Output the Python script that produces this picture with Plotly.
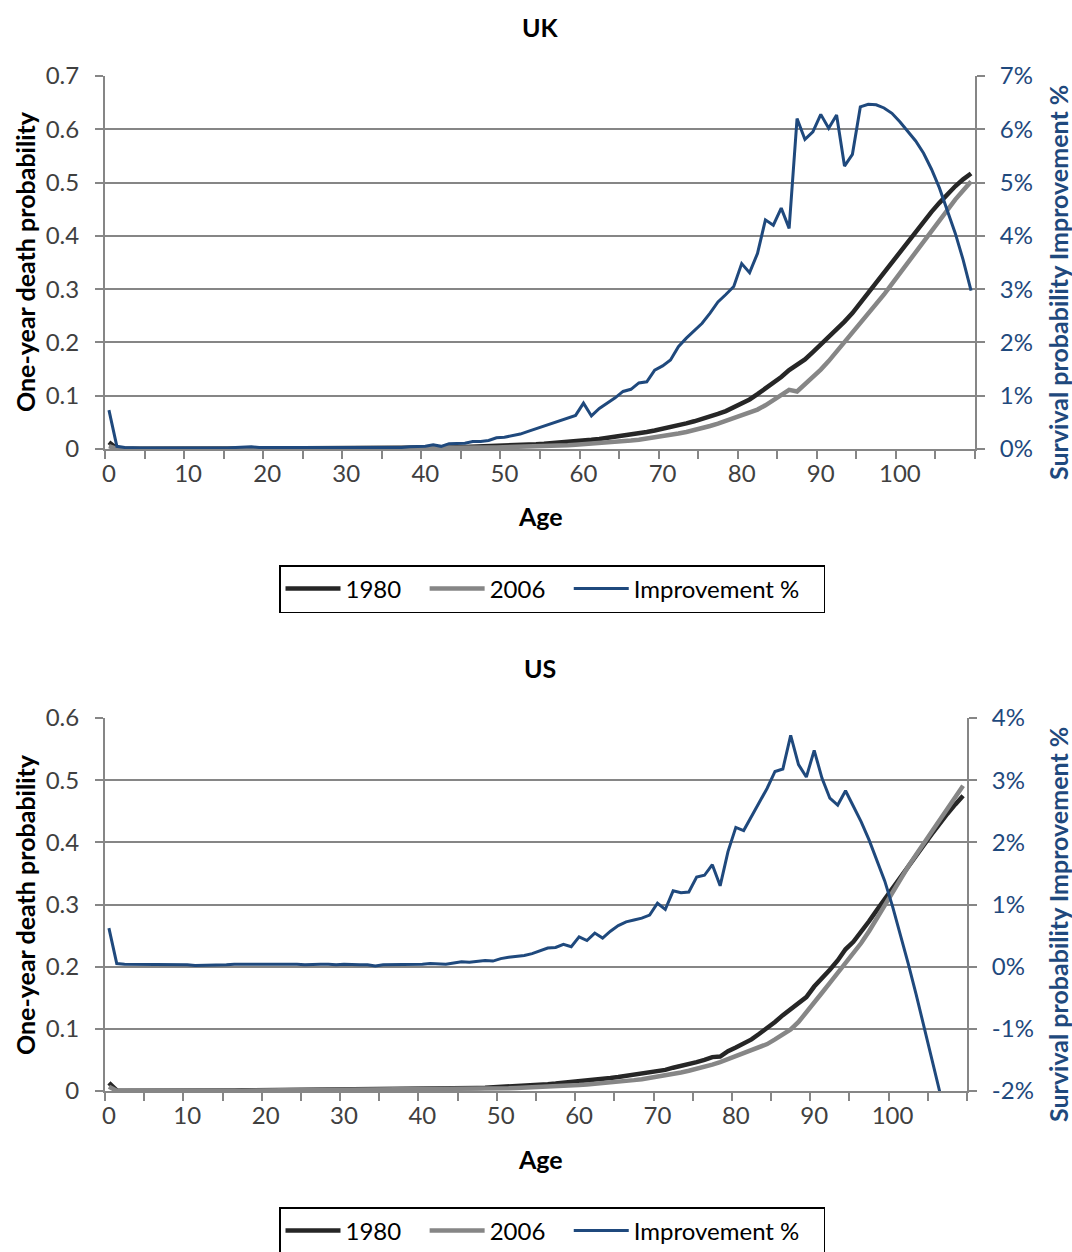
import plotly.graph_objects as go

# Ages 0..109, one category per year of age
ages = list(range(110))

# ---------------- UK ----------------
uk_1980 = [
    0.0125, 0.0009, 0.0005, 0.0004, 0.0003, 0.0003, 0.0003, 0.0002, 0.0002, 0.0002,
    0.0002, 0.0002, 0.0003, 0.0003, 0.0004, 0.0005, 0.0006, 0.0008, 0.0009, 0.0009,
    0.0008, 0.0008, 0.0008, 0.0008, 0.0008, 0.0008, 0.0008, 0.0009, 0.0009, 0.0009,
    0.0010, 0.0010, 0.0011, 0.0011, 0.0012, 0.0013, 0.0014, 0.0016, 0.0017, 0.0019,
    0.0021, 0.0023, 0.0026, 0.0029, 0.0032, 0.0036, 0.0040, 0.0044, 0.0049, 0.0054,
    0.0060, 0.0066, 0.0073, 0.0080, 0.0088, 0.0097, 0.0106, 0.0117, 0.0128, 0.0140,
    0.0160, 0.0172, 0.0188, 0.0207, 0.0228, 0.0250, 0.0272, 0.0296, 0.0320, 0.0347,
    0.0376, 0.0408, 0.0443, 0.0480, 0.0520, 0.0562, 0.0608, 0.0658, 0.0712, 0.0787,
    0.0870, 0.0930, 0.1030, 0.1140, 0.1230, 0.1350, 0.1480, 0.1580, 0.1680, 0.1820,
    0.1960, 0.2110, 0.2260, 0.2390, 0.2550, 0.2740, 0.2940, 0.3130, 0.3330, 0.3520,
    0.3710, 0.3900, 0.4090, 0.4270, 0.4450, 0.4620, 0.4780, 0.4930, 0.5060, 0.5170,
]
uk_2006 = [
    0.0052, 0.0004, 0.0002, 0.0001, 0.0001, 0.0001, 0.0001, 0.0001, 0.0001, 0.0001,
    0.0001, 0.0001, 0.0001, 0.0002, 0.0002, 0.0003, 0.0003, 0.0004, 0.0005, 0.0005,
    0.0005, 0.0005, 0.0005, 0.0005, 0.0005, 0.0006, 0.0006, 0.0006, 0.0006, 0.0006,
    0.0007, 0.0007, 0.0008, 0.0008, 0.0009, 0.0009, 0.0010, 0.0010, 0.0011, 0.0012,
    0.0013, 0.0014, 0.0015, 0.0017, 0.0018, 0.0020, 0.0022, 0.0024, 0.0026, 0.0029,
    0.0032, 0.0035, 0.0038, 0.0042, 0.0046, 0.0051, 0.0056, 0.0064, 0.0072, 0.0081,
    0.0090, 0.0098, 0.0107, 0.0118, 0.0130, 0.0143, 0.0158, 0.0175, 0.0194, 0.0215,
    0.0238, 0.0263, 0.0290, 0.0320, 0.0353, 0.0390, 0.0432, 0.0478, 0.0528, 0.0580,
    0.0630, 0.0680, 0.0740, 0.0820, 0.0910, 0.1010, 0.1110, 0.1080, 0.1210, 0.1340,
    0.1490, 0.1650, 0.1830, 0.2010, 0.2170, 0.2340, 0.2520, 0.2700, 0.2900, 0.3100,
    0.3300, 0.3500, 0.3710, 0.3910, 0.4110, 0.4310, 0.4500, 0.4680, 0.4850, 0.5020,
]
uk_improvement = [
    0.73, 0.05, 0.03, 0.02, 0.02, 0.02, 0.02, 0.02, 0.02, 0.02,
    0.01, 0.02, 0.02, 0.02, 0.02, 0.02, 0.03, 0.04, 0.04, 0.03,
    0.03, 0.02, 0.02, 0.02, 0.02, 0.02, 0.02, 0.02, 0.02, 0.02,
    0.02, 0.02, 0.02, 0.02, 0.03, 0.03, 0.03, 0.03, 0.04, 0.04,
    0.05, 0.08, 0.05, 0.10, 0.11, 0.11, 0.14, 0.14, 0.16, 0.21,
    0.22, 0.25, 0.28, 0.33, 0.38, 0.42, 0.47, 0.52, 0.58, 0.63,
    0.86, 0.62, 0.76, 0.86, 0.96, 1.08, 1.12, 1.24, 1.26, 1.48,
    1.56, 1.67, 1.92, 2.08, 2.22, 2.36, 2.55, 2.76, 2.90, 3.05,
    3.48, 3.31, 3.67, 4.30, 4.20, 4.52, 4.14, 6.20, 5.81, 5.95,
    6.28, 6.02, 6.27, 5.31, 5.53, 6.42, 6.47, 6.46, 6.40, 6.30,
    6.14, 5.97, 5.78, 5.55, 5.25, 4.90, 4.48, 4.05, 3.55, 2.97,
]

# ---------------- US ----------------
us_1980 = [
    0.0130, 0.0010, 0.0006, 0.0005, 0.0004, 0.0004, 0.0003, 0.0003, 0.0003, 0.0002,
    0.0002, 0.0002, 0.0003, 0.0004, 0.0006, 0.0008, 0.0010, 0.0011, 0.0012, 0.0013,
    0.0014, 0.0014, 0.0014, 0.0014, 0.0014, 0.0014, 0.0014, 0.0014, 0.0014, 0.0014,
    0.0015, 0.0015, 0.0016, 0.0016, 0.0017, 0.0018, 0.0019, 0.0021, 0.0022, 0.0024,
    0.0026, 0.0028, 0.0031, 0.0034, 0.0037, 0.0041, 0.0045, 0.0049, 0.0053, 0.0058,
    0.0064, 0.0070, 0.0076, 0.0083, 0.0091, 0.0100, 0.0110, 0.0120, 0.0131, 0.0143,
    0.0155, 0.0167, 0.0180, 0.0194, 0.0210, 0.0226, 0.0244, 0.0262, 0.0282, 0.0300,
    0.0320, 0.0340, 0.0375, 0.0400, 0.0430, 0.0465, 0.0500, 0.0545, 0.0555, 0.0640,
    0.0700, 0.0760, 0.0830, 0.0920, 0.1010, 0.1110, 0.1220, 0.1320, 0.1400, 0.1510,
    0.1680, 0.1810, 0.1950, 0.2100, 0.2280, 0.2400, 0.2560, 0.2730, 0.2910, 0.3090,
    0.3270, 0.3440, 0.3610, 0.3780, 0.3960, 0.4130, 0.4300, 0.4460, 0.4610, 0.4750,
]
us_2006 = [
    0.0068, 0.0005, 0.0003, 0.0002, 0.0002, 0.0001, 0.0001, 0.0001, 0.0001, 0.0001,
    0.0001, 0.0001, 0.0002, 0.0002, 0.0003, 0.0004, 0.0006, 0.0007, 0.0008, 0.0009,
    0.0009, 0.0010, 0.0010, 0.0010, 0.0010, 0.0010, 0.0010, 0.0010, 0.0010, 0.0010,
    0.0011, 0.0011, 0.0011, 0.0011, 0.0011, 0.0012, 0.0013, 0.0014, 0.0015, 0.0016,
    0.0018, 0.0019, 0.0021, 0.0023, 0.0025, 0.0027, 0.0030, 0.0033, 0.0036, 0.0039,
    0.0042, 0.0045, 0.0049, 0.0053, 0.0057, 0.0062, 0.0068, 0.0075, 0.0082, 0.0089,
    0.0097, 0.0106, 0.0115, 0.0125, 0.0136, 0.0148, 0.0161, 0.0175, 0.0190, 0.0208,
    0.0228, 0.0250, 0.0272, 0.0297, 0.0325, 0.0355, 0.0388, 0.0424, 0.0464, 0.0510,
    0.0560, 0.0605, 0.0650, 0.0700, 0.0755, 0.0830, 0.0900, 0.0990, 0.1110, 0.1260,
    0.1420, 0.1580, 0.1740, 0.1900, 0.2050, 0.2200, 0.2380, 0.2570, 0.2780, 0.3000,
    0.3210, 0.3410, 0.3610, 0.3800, 0.3990, 0.4180, 0.4370, 0.4550, 0.4730, 0.4910,
]
us_improvement = [
    0.62, 0.05, 0.04, 0.04, 0.03, 0.03, 0.03, 0.03, 0.03, 0.03,
    0.03, 0.02, 0.02, 0.03, 0.03, 0.03, 0.04, 0.04, 0.05, 0.04,
    0.04, 0.04, 0.04, 0.04, 0.04, 0.03, 0.04, 0.04, 0.04, 0.03,
    0.04, 0.03, 0.03, 0.03, 0.01, 0.03, 0.03, 0.03, 0.03, 0.04,
    0.04, 0.05, 0.04, 0.04, 0.06, 0.08, 0.07, 0.09, 0.10, 0.09,
    0.13, 0.15, 0.16, 0.18, 0.21, 0.26, 0.30, 0.31, 0.36, 0.32,
    0.48, 0.42, 0.54, 0.46, 0.57, 0.66, 0.72, 0.75, 0.78, 0.83,
    1.02, 0.92, 1.22, 1.19, 1.20, 1.44, 1.47, 1.64, 1.30, 1.85,
    2.24, 2.19, 2.42, 2.65, 2.87, 3.14, 3.18, 3.72, 3.25, 3.05,
    3.48, 3.03, 2.71, 2.60, 2.83, 2.58, 2.33, 2.04, 1.70, 1.38,
    0.97, 0.52, 0.05, -0.44, -0.95, -1.47, -2.00, -2.60, -3.20, -3.85,
]

age_labels = list(range(0, 101, 10))
series_names = ["1980", "2006", "Improvement %"]
uk_pct_ticks = list(range(0, 8))
us_pct_ticks = list(range(-2, 5))

# ---------------- styling ----------------
W, H = 1072, 1252
FONT = "Lato"
C_1980 = "#262626"
C_2006 = "#868686"
C_IMPR = "#1F497D"
C_AXIS = "#868686"
C_TEXT = "#404040"
FS_TICK = 24
FS_TITLE = 25
FS_LEG = 24
NBSP = "\u00a0"


def px_x(v):
    return v / W


def px_y(v):
    return 1 - v / H


# legend labels padded so the entries spread across the boxed legend
legend_labels = [name + NBSP * 3 for name in series_names]

fig = go.Figure()

panels = [
    dict(q80=uk_1980, q06=uk_2006, imp=uk_improvement,
         xa="x", ya="y", ya2="y2", legend="legend"),
    dict(q80=us_1980, q06=us_2006, imp=us_improvement,
         xa="x2", ya="y3", ya2="y4", legend="legend2"),
]

for p in panels:
    fig.add_trace(go.Scatter(x=ages, y=p["q80"], name=legend_labels[0], mode="lines",
                             line=dict(color=C_1980, width=4.5),
                             xaxis=p["xa"], yaxis=p["ya"], legend=p["legend"]))
    fig.add_trace(go.Scatter(x=ages, y=p["q06"], name=legend_labels[1], mode="lines",
                             line=dict(color=C_2006, width=4.5),
                             xaxis=p["xa"], yaxis=p["ya"], legend=p["legend"]))
    fig.add_trace(go.Scatter(x=ages, y=p["imp"], name=legend_labels[2], mode="lines",
                             line=dict(color=C_IMPR, width=3),
                             xaxis=p["xa"], yaxis=p["ya2"], legend=p["legend"]))

tick_font = dict(family=FONT, size=FS_TICK, color=C_TEXT)
right_font = dict(family=FONT, size=FS_TICK, color=C_IMPR)


def xaxis_cfg(dom, anchor):
    return dict(
        domain=dom, anchor=anchor, range=[-0.5, 109.5],
        tickmode="array", tickvals=age_labels, ticks="",
        showgrid=False, zeroline=False,
        showline=True, linecolor=C_AXIS, linewidth=2,
        tickfont=tick_font, ticklabelstandoff=2,
        minor=dict(tickmode="linear", tick0=-0.5, dtick=5, ticks="outside",
                   ticklen=8, tickwidth=2, tickcolor=C_AXIS, showgrid=False),
    )


def yleft_cfg(dom, anchor, rng, vals):
    return dict(
        domain=dom, anchor=anchor, range=rng,
        tickmode="array", tickvals=vals, ticktext=["%g" % v for v in vals],
        ticks="outside", ticklen=8, tickwidth=2, tickcolor=C_AXIS,
        showgrid=True, gridcolor=C_AXIS, gridwidth=2,
        zeroline=False, showline=True, linecolor=C_AXIS, linewidth=2,
        tickfont=tick_font, ticklabelstandoff=11,
    )


def yright_cfg(over, anchor, rng, vals):
    return dict(
        overlaying=over, anchor=anchor, side="right", range=rng,
        tickmode="array", tickvals=vals, ticktext=["%d%%" % v for v in vals],
        ticks="outside", ticklen=8, tickwidth=2, tickcolor=C_AXIS,
        showgrid=False, zeroline=False, showline=True, linecolor=C_AXIS, linewidth=2,
        tickfont=right_font, ticklabelstandoff=10,
    )


uk_xdom = [px_x(105), px_x(975)]
uk_ydom = [px_y(449), px_y(76)]
us_xdom = [px_x(105), px_x(967)]
us_ydom = [px_y(1091), px_y(718)]

legend_common = dict(
    orientation="h", xanchor="center", yanchor="top",
    bordercolor="#000000", borderwidth=1.5, bgcolor="white",
    font=dict(family=FONT, size=FS_LEG, color="#000000"),
    itemwidth=55,
)

fig.update_layout(
    width=W, height=H,
    margin=dict(l=0, r=0, t=0, b=0, autoexpand=False),
    paper_bgcolor="white", plot_bgcolor="white",
    font=dict(family=FONT, size=FS_TICK, color="#000000"),
    xaxis=xaxis_cfg(uk_xdom, "y"),
    yaxis=yleft_cfg(uk_ydom, "x", [0, 0.7], [0, 0.1, 0.2, 0.3, 0.4, 0.5, 0.6, 0.7]),
    yaxis2=yright_cfg("y", "x", [0, 7], uk_pct_ticks),
    xaxis2=xaxis_cfg(us_xdom, "y3"),
    yaxis3=yleft_cfg(us_ydom, "x2", [0, 0.6], [0, 0.1, 0.2, 0.3, 0.4, 0.5, 0.6]),
    yaxis4=yright_cfg("y3", "x2", [-2, 4], us_pct_ticks),
    legend=dict(x=px_x(552), y=px_y(565), **legend_common),
    legend2=dict(x=px_x(552), y=px_y(1207), **legend_common),
    showlegend=True,
)

# Panel titles and axis titles
ann = []
for title, title_y, age_y, lt_y, rt_y in [
    ("UK", 27, 516, 262, 283),
    ("US", 668, 1159, 905, 925),
]:
    ann.append(dict(text="<b>%s</b>" % title, x=px_x(540), y=px_y(title_y),
                    xref="paper", yref="paper", showarrow=False,
                    xanchor="center", yanchor="middle",
                    font=dict(family=FONT, size=FS_TITLE, color="#000000")))
    ann.append(dict(text="<b>Age</b>", x=px_x(540), y=px_y(age_y),
                    xref="paper", yref="paper", showarrow=False,
                    xanchor="center", yanchor="middle",
                    font=dict(family=FONT, size=FS_TITLE, color="#000000")))
    ann.append(dict(text="<b>One-year death probability</b>", x=px_x(25), y=px_y(lt_y),
                    xref="paper", yref="paper", showarrow=False, textangle=-90,
                    xanchor="center", yanchor="middle",
                    font=dict(family=FONT, size=FS_TITLE, color="#000000")))
    ann.append(dict(text="<b>Survival probability Improvement %</b>", x=px_x(1058), y=px_y(rt_y),
                    xref="paper", yref="paper", showarrow=False, textangle=-90,
                    xanchor="center", yanchor="middle",
                    font=dict(family=FONT, size=FS_TITLE, color=C_IMPR)))
fig.update_layout(annotations=ann)

fig.write_html("out.html")
